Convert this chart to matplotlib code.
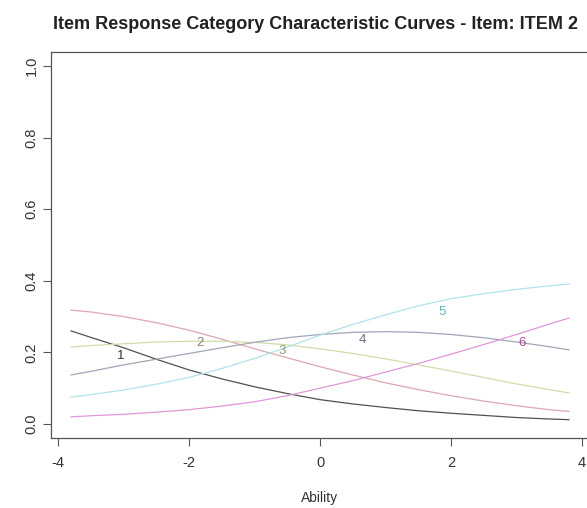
import matplotlib
matplotlib.use("Agg")
import matplotlib.pyplot as plt

# ---------------------------------------------------------------------------
# Data (category probability vs ability)
# ---------------------------------------------------------------------------

ability = [-3.8, -3.5, -3.0, -2.5, -2.0, -1.5, -1.0, -0.5, 0.0,
           0.5, 1.0, 1.5, 2.0, 2.5, 3.0, 3.5, 3.8]

cat1 = [0.260, 0.242, 0.213, 0.181, 0.151, 0.126, 0.104, 0.085, 0.068,
        0.056, 0.046, 0.037, 0.030, 0.024, 0.018, 0.014, 0.012]
cat2 = [0.318, 0.313, 0.300, 0.283, 0.262, 0.237, 0.210, 0.185, 0.160,
        0.137, 0.115, 0.096, 0.079, 0.064, 0.051, 0.040, 0.035]
cat3 = [0.215, 0.219, 0.224, 0.229, 0.231, 0.231, 0.228, 0.221, 0.210,
        0.197, 0.182, 0.165, 0.148, 0.130, 0.112, 0.096, 0.087]
cat4 = [0.137, 0.147, 0.165, 0.181, 0.197, 0.213, 0.228, 0.241, 0.250,
        0.256, 0.258, 0.256, 0.250, 0.241, 0.229, 0.216, 0.207]
cat5 = [0.075, 0.082, 0.095, 0.111, 0.130, 0.155, 0.183, 0.215, 0.248,
        0.278, 0.305, 0.330, 0.350, 0.364, 0.376, 0.386, 0.391]
cat6 = [0.020, 0.023, 0.027, 0.033, 0.040, 0.050, 0.062, 0.079, 0.100,
        0.121, 0.145, 0.169, 0.195, 0.222, 0.250, 0.279, 0.296]

categories = ["1", "2", "3", "4", "5", "6"]
label_x = [-3.05, -1.83, -0.58, 0.64, 1.86, 3.08]
label_y = [0.190, 0.226, 0.204, 0.235, 0.313, 0.226]

x_ticks = [-4, -2, 0, 2, 4]
y_ticks = [0.0, 0.2, 0.4, 0.6, 0.8, 1.0]

# faded R palette: black, red, green, blue, cyan, magenta
line_colors  = ["#505050", "#dca8b0", "#cfdcaa", "#a0a6b6", "#afe3e9", "#e296d9"]
label_colors = ["#333333", "#8f7a7e", "#8f9d70", "#687082", "#5fb3ba", "#a24a9a"]

plt.rcParams["font.family"] = ["Liberation Sans", "DejaVu Sans"]

fig = plt.figure(figsize=(5.87, 5.08), dpi=100)
ax = fig.add_axes([0.0872, 0.1372, 0.9159, 0.761])

for vals, lc in zip([cat1, cat2, cat3, cat4, cat5, cat6], line_colors):
    ax.plot(ability, vals, color=lc, lw=0.9)

for name, lx, ly, tc in zip(categories, label_x, label_y, label_colors):
    ax.text(lx, ly, name, color=tc, fontsize=9.5, ha="center", va="center")

ax.set_xlim(-4.104, 4.104)
ax.set_ylim(-0.04, 1.04)
ax.set_xticks(x_ticks)
ax.set_xticklabels([str(t) for t in x_ticks])
ax.set_yticks(y_ticks)
ax.set_yticklabels([f"{t:.1f}" for t in y_ticks], rotation=90, va="center")
ax.tick_params(direction="out", length=6, width=0.8, colors="#555555",
               labelcolor="#333333", labelsize=10.5)
ax.tick_params(axis="x", pad=7)
ax.tick_params(axis="y", pad=3)
for sp in ax.spines.values():
    sp.set_color("#555555")
    sp.set_linewidth(0.9)

ax.set_xlabel("Ability", fontsize=10, color="#333333", labelpad=15)
fig.text(0.538, 0.952, "Item Response Category Characteristic Curves - Item: ITEM 2",
         ha="center", va="center", fontsize=13, fontweight="bold", color="#222222")

fig.savefig("out.png", dpi=100)
